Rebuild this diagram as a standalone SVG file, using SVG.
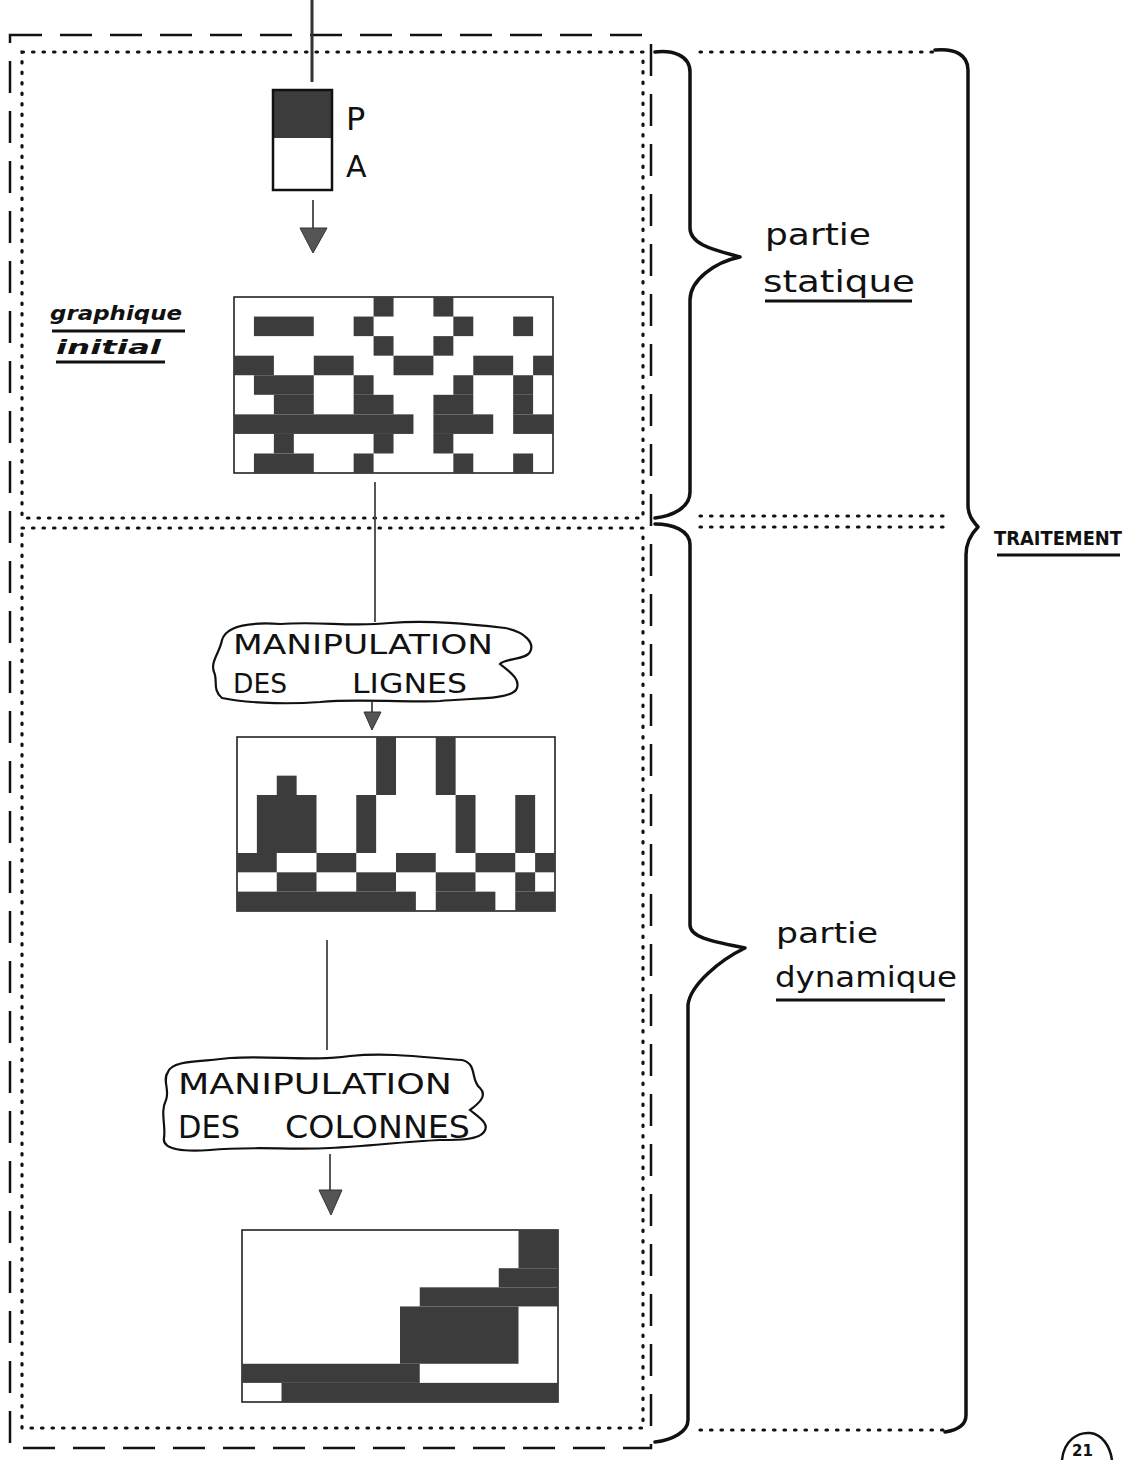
<svg xmlns="http://www.w3.org/2000/svg" width="1140" height="1460" viewBox="0 0 1140 1460">
<style>
.dash{fill:none;stroke:#111;stroke-width:2.5;stroke-dasharray:32 18}
.dot{fill:none;stroke:#111;stroke-width:3.2;stroke-dasharray:1.5 9;stroke-linecap:round}
.brace{fill:none;stroke:#111;stroke-width:3.5;stroke-linecap:round;stroke-linejoin:round}
.grid{fill:#fff;stroke:#222;stroke-width:1.6}
.cells rect{fill:#3c3c3c}
.hand{font-family:"DejaVu Sans","Liberation Sans",sans-serif;fill:#111}
.caps{font-family:"DejaVu Sans","Liberation Sans",sans-serif;fill:#111;font-weight:normal}
.ul{stroke:#111;stroke-width:3;fill:none}
.cloud{fill:none;stroke:#111;stroke-width:2.2}
.conn{stroke:#444;stroke-width:1.8;fill:none}
.head{fill:#555;stroke:#333;stroke-width:1}
</style>

<g id="frames">
<rect class="dash" x="10" y="35" width="641" height="1413"/>
<rect class="dot" x="22" y="52" width="621" height="466"/>
<rect class="dot" x="22" y="528" width="621" height="900"/>
<line class="dot" x1="700" y1="52" x2="935" y2="52"/>
<line class="dot" x1="700" y1="516" x2="945" y2="516"/>
<line class="dot" x1="700" y1="527" x2="945" y2="527"/>
<line class="dot" x1="700" y1="1430" x2="945" y2="1430"/>
</g>

<g id="braces">
<path class="brace" d="M655,52 C672,50 690,55 690,72 L690,228 C690,245 715,250 740,257 C715,262 690,280 690,300 L690,492 C690,508 672,516 655,518"/>
<path class="brace" d="M655,524 C672,524 690,530 690,545 L690,925 C690,938 715,942 745,948 C720,960 690,985 688,1005 L688,1420 C688,1432 672,1440 655,1442"/>
<path class="brace" d="M935,50 C955,48 968,55 968,70 L968,505 C968,515 972,520 978,527 C970,535 966,545 966,555 L966,1415 C966,1425 958,1430 945,1432"/>
</g>

<g id="node-pa">
<rect x="273" y="90" width="59" height="48" fill="#3c3c3c"/>
<rect x="273" y="90" width="59" height="100" fill="none" stroke="#111" stroke-width="2.5"/>
<text class="hand" x="346" y="130" font-size="32">P</text>
<text class="hand" x="346" y="177" font-size="30">A</text>
</g>

<g id="node-grid1">
<rect class="grid" x="234" y="297" width="319" height="176"/>
<g class="cells" transform="translate(234,297) scale(19.94,19.56)">
<rect x="7" y="0" width="1" height="1"/><rect x="10" y="0" width="1" height="1"/>
<rect x="1" y="1" width="3" height="1"/><rect x="6" y="1" width="1" height="1"/><rect x="11" y="1" width="1" height="1"/><rect x="14" y="1" width="1" height="1"/>
<rect x="7" y="2" width="1" height="1"/><rect x="10" y="2" width="1" height="1"/>
<rect x="0" y="3" width="2" height="1"/><rect x="4" y="3" width="2" height="1"/><rect x="8" y="3" width="2" height="1"/><rect x="12" y="3" width="2" height="1"/><rect x="15" y="3" width="1" height="1"/>
<rect x="1" y="4" width="3" height="1"/><rect x="6" y="4" width="1" height="1"/><rect x="11" y="4" width="1" height="1"/><rect x="14" y="4" width="1" height="1"/>
<rect x="2" y="5" width="2" height="1"/><rect x="6" y="5" width="2" height="1"/><rect x="10" y="5" width="2" height="1"/><rect x="14" y="5" width="1" height="1"/>
<rect x="0" y="6" width="9" height="1"/><rect x="10" y="6" width="3" height="1"/><rect x="14" y="6" width="2" height="1"/>
<rect x="2" y="7" width="1" height="1"/><rect x="7" y="7" width="1" height="1"/><rect x="10" y="7" width="1" height="1"/>
<rect x="1" y="8" width="3" height="1"/><rect x="6" y="8" width="1" height="1"/><rect x="11" y="8" width="1" height="1"/><rect x="14" y="8" width="1" height="1"/>
</g>
</g>

<g id="label-graphique">
<text class="hand" x="50" y="320" font-size="19" font-style="italic" font-weight="bold" textLength="132" lengthAdjust="spacingAndGlyphs">graphique</text>
<line class="ul" x1="52" y1="331" x2="185" y2="331" stroke-width="2.5"/>
<text class="hand" x="56" y="354" font-size="19" font-style="italic" font-weight="bold" textLength="105" lengthAdjust="spacingAndGlyphs">initial</text>
<line class="ul" x1="56" y1="362" x2="165" y2="362" stroke-width="2.5"/>
</g>

<g id="node-manip-lignes">
<path class="cloud" d="M222,640 C226,626 250,622 280,624 C320,621 350,627 390,623 C430,620 470,624 505,628 C525,632 535,643 530,652 C526,660 505,658 500,664 C510,672 522,680 516,690 C508,700 470,698 440,701 C400,703 360,698 320,702 C280,705 240,702 222,698 C212,690 218,680 214,672 C210,662 220,652 222,640 Z"/>
<text class="caps" x="233" y="654" font-size="26" textLength="260" lengthAdjust="spacingAndGlyphs">MANIPULATION</text>
<text class="caps" x="233" y="693" font-size="26" textLength="54" lengthAdjust="spacingAndGlyphs">DES</text>
<text class="caps" x="352" y="693" font-size="26" textLength="115" lengthAdjust="spacingAndGlyphs">LIGNES</text>
</g>

<g id="node-grid2">
<rect class="grid" x="237" y="737" width="318" height="174"/>
<g class="cells" transform="translate(237,737) scale(19.875,19.33)">
<rect x="7" y="0" width="1" height="3"/><rect x="10" y="0" width="1" height="3"/>
<rect x="2" y="2" width="1" height="1"/>
<rect x="1" y="3" width="3" height="3"/><rect x="6" y="3" width="1" height="3"/><rect x="11" y="3" width="1" height="3"/><rect x="14" y="3" width="1" height="3"/>
<rect x="0" y="6" width="2" height="1"/><rect x="4" y="6" width="2" height="1"/><rect x="8" y="6" width="2" height="1"/><rect x="12" y="6" width="2" height="1"/><rect x="15" y="6" width="1" height="1"/>
<rect x="2" y="7" width="2" height="1"/><rect x="6" y="7" width="2" height="1"/><rect x="10" y="7" width="2" height="1"/><rect x="14" y="7" width="1" height="1"/>
<rect x="0" y="8" width="9" height="1"/><rect x="10" y="8" width="3" height="1"/><rect x="14" y="8" width="2" height="1"/>
</g>
</g>

<g id="node-manip-colonnes">
<path class="cloud" d="M168,1072 C172,1060 200,1062 230,1058 C270,1055 310,1062 350,1056 C390,1052 430,1058 462,1060 C478,1064 470,1080 480,1088 C488,1096 478,1104 470,1110 C480,1118 490,1124 484,1132 C478,1140 460,1140 440,1140 C400,1142 370,1146 330,1148 C290,1150 250,1146 210,1150 C185,1152 162,1150 164,1138 C166,1126 160,1112 166,1100 C170,1090 162,1080 168,1072 Z"/>
<text class="caps" x="178" y="1094" font-size="28" textLength="274" lengthAdjust="spacingAndGlyphs">MANIPULATION</text>
<text class="caps" x="178" y="1138" font-size="32" textLength="62" lengthAdjust="spacingAndGlyphs">DES</text>
<text class="caps" x="285" y="1138" font-size="32" textLength="185" lengthAdjust="spacingAndGlyphs">COLONNES</text>
</g>

<g id="node-grid3">
<rect class="grid" x="242" y="1230" width="316" height="172"/>
<g class="cells" transform="translate(242,1230) scale(19.75,19.11)">
<rect x="14" y="0" width="2" height="2"/>
<rect x="13" y="2" width="3" height="1"/>
<rect x="9" y="3" width="7" height="1"/>
<rect x="8" y="4" width="6" height="3"/>
<rect x="0" y="7" width="9" height="1"/>
<rect x="2" y="8" width="14" height="1"/>
</g>
</g>

<g id="label-statique">
<text class="hand" x="765" y="245" font-size="30" textLength="106" lengthAdjust="spacingAndGlyphs">partie</text>
<text class="hand" x="763" y="292" font-size="30" textLength="152" lengthAdjust="spacingAndGlyphs">statique</text>
<line class="ul" x1="765" y1="301" x2="912" y2="301"/>
</g>

<g id="label-dynamique">
<text class="hand" x="776" y="943" font-size="28" textLength="102" lengthAdjust="spacingAndGlyphs">partie</text>
<text class="hand" x="775" y="987" font-size="28" textLength="182" lengthAdjust="spacingAndGlyphs">dynamique</text>
<line class="ul" x1="776" y1="1000" x2="945" y2="1000"/>
</g>

<g id="label-traitement">
<text class="hand" x="994" y="545" font-size="20" font-weight="bold" textLength="128" lengthAdjust="spacingAndGlyphs">TRAITEMENT</text>
<line class="ul" x1="997" y1="555" x2="1120" y2="555"/>
</g>

<g id="connectors">
<line x1="312" y1="0" x2="312" y2="82" stroke="#333" stroke-width="3"/>
<line class="conn" x1="313" y1="200" x2="313" y2="230" stroke-width="4" stroke="#555"/>
<polygon class="head" points="300,228 327,228 313,253"/>
<line class="conn" x1="375" y1="482" x2="375" y2="622"/>
<line class="conn" x1="372" y1="702" x2="372" y2="714" stroke-width="3"/>
<polygon class="head" points="364,712 381,712 372,730"/>
<line class="conn" x1="327" y1="940" x2="327" y2="1050"/>
<line class="conn" x1="330" y1="1154" x2="330" y2="1192" stroke-width="3"/>
<polygon class="head" points="319,1190 342,1190 331,1215"/>
</g>

<g id="page-number">
<path d="M1062,1460 C1064,1440 1078,1432 1090,1433 C1102,1434 1110,1446 1112,1460" fill="none" stroke="#111" stroke-width="2.5"/>
<text class="hand" x="1072" y="1456" font-size="15" font-weight="bold">21</text>
</g>
</svg>
